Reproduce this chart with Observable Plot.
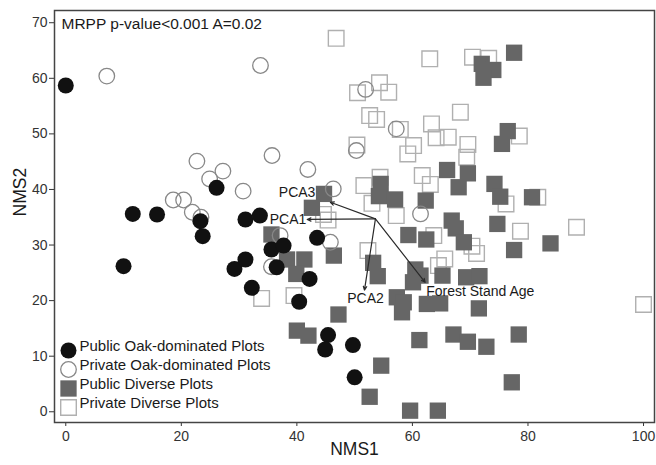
<!DOCTYPE html>
<html><head><meta charset="utf-8">
<script src="https://cdn.jsdelivr.net/npm/d3@7"></script>
<script src="https://cdn.jsdelivr.net/npm/@observablehq/plot@0.6"></script>
<style>body{margin:0;background:#fff}</style>
</head><body><div id="chart"></div>
<script>
const xTicks = [0, 20, 40, 60, 80, 100];
const yTicks = [0, 10, 20, 30, 40, 50, 60, 70];
const legendNames = ["Public Oak-dominated Plots", "Private Oak-dominated Plots", "Public Diverse Plots", "Private Diverse Plots"];
const statText = "MRPP p-value<0.001 A=0.02";

// [NMS1, NMS2]
const publicOak = [
  [0.0, 58.7], [11.6, 35.6], [15.8, 35.5], [26.1, 40.3], [23.3, 34.3], [23.7, 31.6],
  [31.1, 34.6], [33.6, 35.3], [10.0, 26.2], [29.2, 25.7], [31.1, 27.4], [32.2, 22.3],
  [35.6, 29.2], [37.7, 29.9], [36.5, 26.0], [43.5, 31.3], [42.2, 23.9], [40.4, 19.8],
  [45.4, 13.8], [44.9, 11.2], [49.7, 12.0], [50.0, 6.2]
];
const privateOak = [
  [7.1, 60.4], [33.7, 62.3], [22.7, 45.1], [24.9, 41.9], [27.2, 43.3], [35.7, 46.1],
  [41.9, 43.6], [30.7, 39.7], [18.6, 38.1], [20.4, 38.1], [21.9, 35.9], [23.4, 35.0],
  [46.3, 40.1], [37.1, 31.7], [45.8, 30.5], [35.6, 26.1], [50.3, 47.0], [51.9, 58.0],
  [57.2, 50.9], [61.4, 35.6]
];
const publicDiverse = [
  [77.6, 64.6], [72.0, 62.6], [74.0, 61.5], [72.3, 60.1], [76.5, 50.5], [75.5, 48.2],
  [66.0, 43.5], [69.6, 42.9], [68.0, 40.4], [74.2, 41.0], [75.2, 38.7], [80.7, 38.6],
  [54.5, 41.0], [54.2, 38.8], [57.0, 38.2], [62.3, 38.0], [44.7, 39.2], [42.6, 36.7],
  [74.7, 33.8], [66.8, 34.4], [67.5, 33.0], [59.3, 31.8], [62.4, 31.0], [68.9, 30.5],
  [77.6, 29.1], [83.9, 30.3], [35.6, 31.9], [46.4, 28.1], [38.3, 27.4], [41.3, 27.4],
  [39.9, 24.8], [53.2, 26.8], [54.0, 24.4], [60.5, 25.6], [61.4, 24.5], [60.1, 23.3],
  [65.2, 24.5], [69.3, 24.2], [71.6, 24.4], [57.3, 20.6], [58.5, 19.7], [58.2, 17.9],
  [62.5, 19.4], [64.8, 19.5], [71.5, 18.6], [47.2, 17.5], [40.0, 14.6], [42.0, 13.7],
  [61.2, 12.9], [67.1, 13.9], [69.6, 12.6], [72.8, 11.7], [78.4, 13.9], [54.6, 8.3],
  [52.6, 2.7], [77.2, 5.3], [59.6, 0.2], [64.4, 0.2]
];
const privateDiverse = [
  [46.8, 67.2], [63.0, 63.5], [70.4, 63.8], [73.2, 63.6], [54.3, 59.2], [50.5, 57.4],
  [55.9, 57.5], [68.3, 53.9], [52.6, 53.3], [53.8, 52.6], [57.9, 50.8], [63.3, 51.8],
  [64.1, 49.3], [66.2, 49.4], [69.6, 48.1], [69.4, 45.8], [60.2, 47.9], [59.2, 46.4],
  [50.4, 48.0], [78.5, 49.6], [54.4, 42.2], [51.6, 40.7], [61.7, 42.5], [63.1, 40.9],
  [81.7, 38.6], [76.2, 37.4], [53.0, 37.5], [57.2, 35.3], [78.7, 32.5], [88.4, 33.2],
  [44.6, 35.5], [45.4, 34.5], [63.7, 31.7], [70.3, 29.8], [71.1, 28.5], [65.6, 27.5],
  [64.5, 26.3], [52.3, 29.0], [33.9, 20.4], [39.5, 20.9], [100.0, 19.3]
];

// environmental vectors
const vectorOrigin = [53.6, 34.7];
const vectorNames = ["PCA1", "PCA2", "PCA3", "Forest Stand Age"];
const vectorEnds = [[41.8, 34.6], [51.7, 21.9], [45.8, 37.7], [62.2, 23.3]];
const vectors = vectorNames.map((name, i) => ({name, x: vectorEnds[i][0], y: vectorEnds[i][1]}));

const labelStyle = {
  "PCA1": {textAnchor: "end", dx: -1, dy: 0},
  "PCA2": {textAnchor: "middle", dx: 1, dy: 8},
  "PCA3": {textAnchor: "end", dx: -15, dy: -10},
  "Forest Stand Age": {textAnchor: "start", dx: 1, dy: 9.5}
};

const font = "'Liberation Sans', Arial, sans-serif";
const legendStyles = [
  {symbol: "circle", r: 8, fill: "#111", stroke: "none"},
  {symbol: "circle", r: 7.8, fill: "none", stroke: "#888", strokeWidth: 1.3},
  {symbol: "square", r: 9.2, fill: "#666", stroke: "none"},
  {symbol: "square", r: 8.8, fill: "none", stroke: "#b0b0b0", strokeWidth: 1.4}
];

const chart = Plot.plot({
  width: 656,
  height: 465,
  marginLeft: 54,
  marginTop: 10,
  marginRight: 2,
  marginBottom: 43,
  style: {fontFamily: font, background: "#fff", color: "#222"},
  x: {domain: [-1.95, 101.9]},
  y: {domain: [-1.93, 72.2]},
  marks: [
    Plot.axisX({ticks: xTicks, tickSize: 4, tickPadding: 5, fontSize: 14, label: null, color: "#333"}),
    Plot.axisY({ticks: yTicks, tickSize: 5, tickPadding: 2, fontSize: 14, label: null, color: "#333"}),
    Plot.dot(privateDiverse, {x: d => d[0], y: d => d[1], ...legendStyles[3]}),
    Plot.dot(publicDiverse, {x: d => d[0], y: d => d[1], ...legendStyles[2]}),
    Plot.dot(privateOak, {x: d => d[0], y: d => d[1], ...legendStyles[1]}),
    Plot.dot(publicOak, {x: d => d[0], y: d => d[1], ...legendStyles[0]}),
    Plot.arrow(vectors, {
      x1: () => vectorOrigin[0], y1: () => vectorOrigin[1], x2: "x", y2: "y",
      stroke: "#2a2a2a", strokeWidth: 1.2, headLength: 5, headAngle: 50
    }),
    ...vectors.map(v => Plot.text([v], {x: "x", y: "y", text: "name", fontSize: 14, fill: "#1a1a1a", ...labelStyle[v.name]})),
    Plot.text([statText], {text: d => d, frameAnchor: "top-left", dx: 7, dy: 7, fontSize: 15.5, fill: "#1a1a1a", lineAnchor: "top"}),
    ...legendNames.map((name, i) => Plot.dot([name], {frameAnchor: "bottom-left", dx: 14, dy: -72 + 19 * i, ...legendStyles[i]})),
    ...legendNames.map((name, i) => Plot.text([name], {text: d => d, frameAnchor: "bottom-left", dx: 25, dy: -72 + 19 * i, fontSize: 15, textAnchor: "start", fill: "#1a1a1a"})),
    Plot.text(["NMS1"], {text: d => d, frameAnchor: "bottom", dy: 32, lineAnchor: "bottom", fontSize: 17.5, fill: "#1a1a1a"}),
    Plot.text(["NMS2"], {text: d => d, frameAnchor: "left", dx: -29, rotate: -90, lineAnchor: "bottom", fontSize: 17.5, fill: "#1a1a1a"}),
    Plot.frame({stroke: "#444", strokeWidth: 1.5})
  ]
});
document.getElementById("chart").append(chart);
</script>
</body></html>
